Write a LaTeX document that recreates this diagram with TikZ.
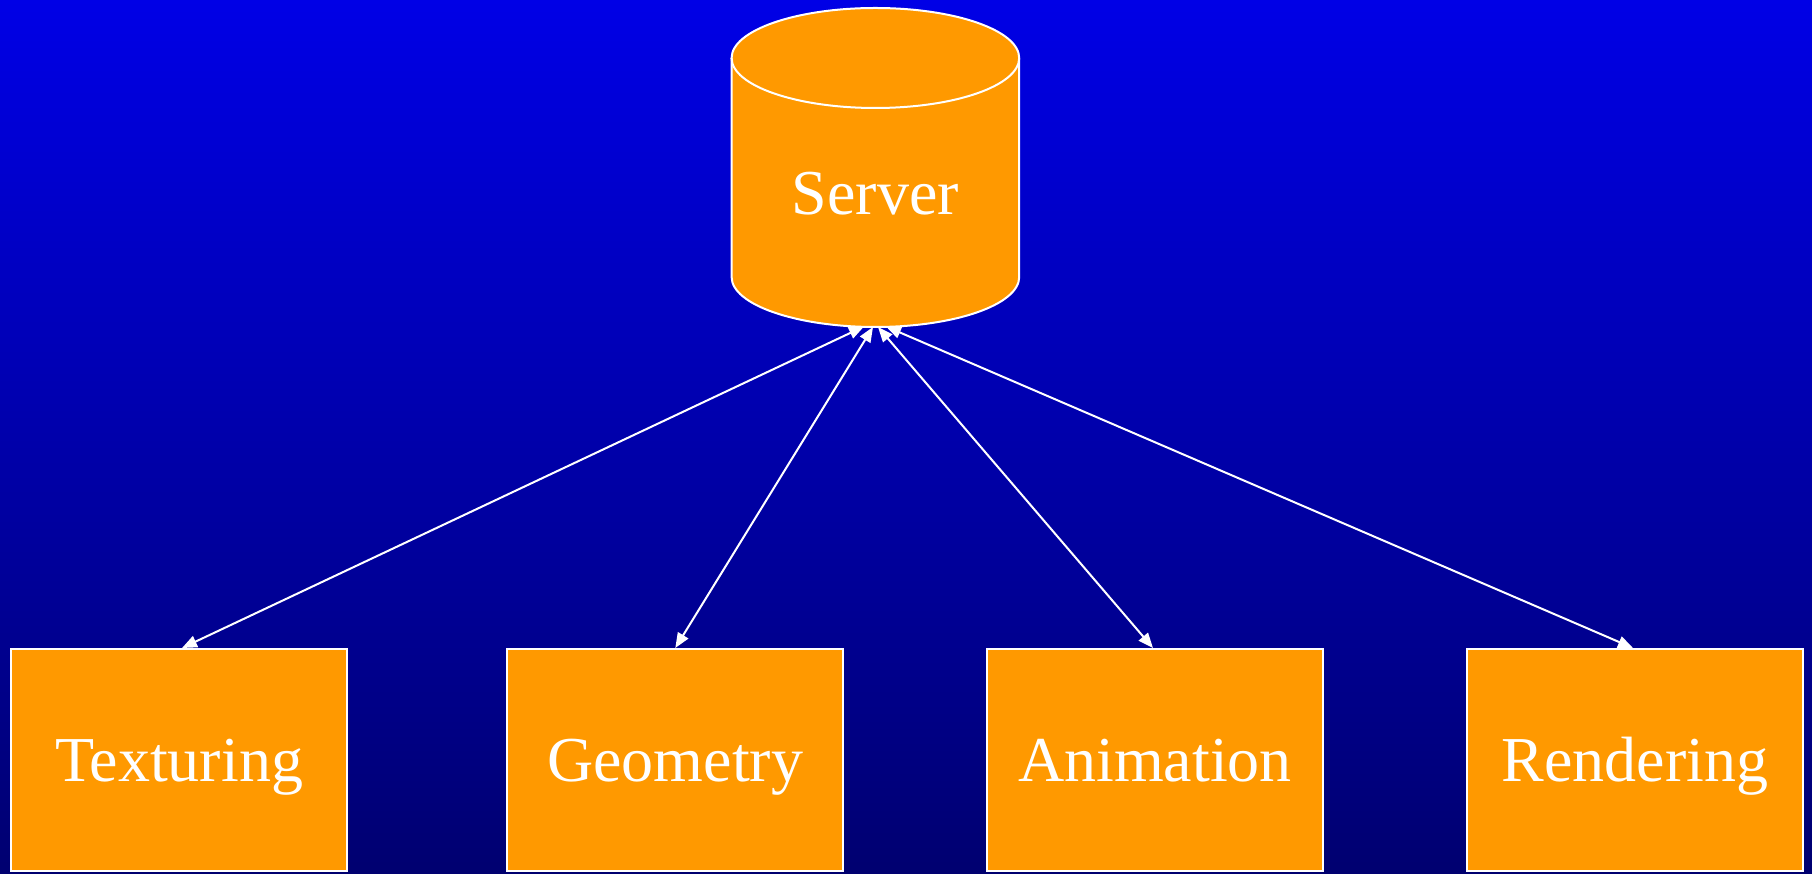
\documentclass[tikz,border=0pt]{standalone}
\usepackage{fontspec}
\setmainfont{Liberation Serif}
\usetikzlibrary{arrows.meta,calc}

\definecolor{skytop}{RGB}{0,0,230}
\definecolor{skybottom}{RGB}{0,0,112}
\definecolor{boxfill}{RGB}{255,153,0}

\tikzset{
  unit/.style={draw=white, line width=2pt, fill=boxfill, text=white,
    minimum width=336pt, minimum height=222pt, inner sep=0pt,
    text height=43pt, text depth=0pt,
    font=\fontsize{64}{77}\selectfont},
  link/.style={draw=white, line width=2pt,
    arrows={Triangle[length=15pt,width=12pt]-Triangle[length=15pt,width=12pt]}},
  label/.style={text=white, font=\fontsize{64}{77}\selectfont, inner sep=0pt}
}

\begin{document}
\begin{tikzpicture}[x=1pt,y=1pt]
  % backdrop
  \useasboundingbox (0,0) rectangle (1812,873);
  \shade[top color=skytop, bottom color=skybottom] (0,0) rectangle (1812,873);

  % server cylinder
  \filldraw[fill=boxfill, draw=white, line width=2pt]
    (731.6,815) -- (731.6,596)
    arc[start angle=180, end angle=360, x radius=143.8, y radius=50]
    -- (1019.2,815)
    arc[start angle=0, end angle=180, x radius=143.8, y radius=50] -- cycle;
  \draw[white, line width=2pt]
    (731.6,815) arc[start angle=180, end angle=360, x radius=143.8, y radius=50];
  \node[label, anchor=base] (srv) at (875.4,658) {Server};

  % ports on the bottom rim of the cylinder
  \coordinate (p1) at (864,546.5);
  \coordinate (p2) at (873,546);
  \coordinate (p3) at (878,546);
  \coordinate (p4) at (886,546.5);

  % client boxes
  \node[unit] (tex) at (179,113)    {Texturing};
  \node[unit] (geo) at (675.3,113)  {Geometry};
  \node[unit] (ani) at (1155,113)   {Animation};
  \node[unit] (ren) at (1635,113)   {Rendering};

  % links
  \draw[link] (p1) -- ($(tex.north)+(3,0)$);
  \draw[link] (p2) -- (geo.north);
  \draw[link] (p3) -- ($(ani.north)+(-2,0)$);
  \draw[link] (p4) -- ($(ren.north)+(-2,0)$);
\end{tikzpicture}
\end{document}
